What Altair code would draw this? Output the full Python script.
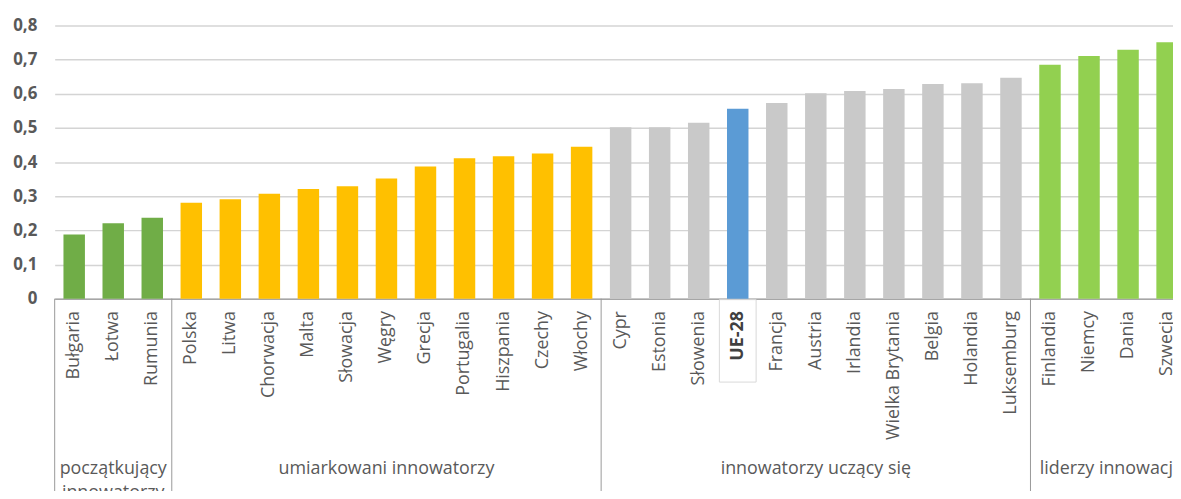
import json
import altair as alt
import pandas as pd

countries = ["Bułgaria", "Łotwa", "Rumunia", "Polska", "Litwa", "Chorwacja", "Malta",
             "Słowacja", "Węgry", "Grecja", "Portugalia", "Hiszpania", "Czechy", "Włochy",
             "Cypr", "Estonia", "Słowenia", "UE-28", "Francja", "Austria", "Irlandia",
             "Wielka Brytania", "Belgia", "Holandia", "Luksemburg", "Finlandia", "Niemcy",
             "Dania", "Szwecja"]
values = [0.188, 0.221, 0.237, 0.281, 0.291, 0.307, 0.321, 0.329, 0.352, 0.387, 0.411,
          0.417, 0.425, 0.445, 0.502, 0.502, 0.515, 0.556, 0.573, 0.602, 0.608, 0.614,
          0.629, 0.631, 0.647, 0.685, 0.711, 0.729, 0.751]
group_names = ["początkujący\ninnowatorzy", "umiarkowani innowatorzy",
               "innowatorzy uczący się", "liderzy innowacji"]
group_sizes = [3, 11, 11, 4]
group_colors = ["#70ad47", "#ffc000", "#c9c9c9", "#92d050"]
highlight = "UE-28"
highlight_color = "#5b9bd5"
y_tick_values = [0, 0.1, 0.2, 0.3, 0.4, 0.5, 0.6, 0.7, 0.8]
y_tick_labels = ["0", "0,1", "0,2", "0,3", "0,4", "0,5", "0,6", "0,7", "0,8"]

# build tables
group_of, color_of = [], []
for g, n in enumerate(group_sizes):
    group_of += [g] * n
for c, g in zip(countries, group_of):
    color_of.append(highlight_color if c == highlight else group_colors[g])
df = pd.DataFrame({"country": countries, "value": values, "group": group_of, "color": color_of})

starts, anchors, even_rows = [], [], []
pos = 0
for g, n in enumerate(group_sizes):
    starts.append(countries[pos])
    if n % 2 == 1:
        anchors.append({"country": countries[pos + n // 2], "label": group_names[g]})
    else:
        even_rows.append({"country": countries[pos + n // 2 - 1], "label": group_names[g]})
    pos += n
sep_df = pd.DataFrame({"country": starts})
lab_odd = pd.DataFrame(anchors)
lab_even = pd.DataFrame(even_rows)
hl_df = pd.DataFrame({"country": [highlight]})

FONT = "Open Sans"
TXT = "#595959"
PLOT_H = 275
STEP = 39.3
P_IN = 0.45
RANGE_W = STEP * len(countries)

xscale = alt.Scale(domain=countries, paddingInner=P_IN, paddingOuter=P_IN / 2, range=[0, RANGE_W])
yscale = alt.Scale(domain=[0, 0.8], nice=False)

label_expr = json.dumps(y_tick_labels) + "[round(datum.value * 10)]"

bars = alt.Chart(df).mark_bar().encode(
    x=alt.X("country:N", sort=countries, scale=xscale, title=None,
            axis=alt.Axis(labelAngle=-90, labelFont=FONT, labelFontSize=18,
                          labelColor=alt.condition(f"datum.value == '{highlight}'", alt.value("#404040"), alt.value(TXT)),
                          labelFontWeight=alt.condition(f"datum.value == '{highlight}'", alt.value("bold"), alt.value("normal")),
                          labelPadding=12, ticks=False, domainColor="#a6a6a6", domainWidth=1.5,
                          grid=False, labelOverlap=False, labelLimit=300)),
    y=alt.Y("value:Q", scale=yscale, title=None,
            axis=alt.Axis(values=y_tick_values, labelExpr=label_expr, labelFont=FONT,
                          labelFontSize=17, labelFontWeight="bold", labelColor=TXT,
                          labelPadding=18, ticks=False, domain=False,
                          grid=True, gridColor="#d4d4d4", gridWidth=1.5)),
    color=alt.Color("color:N", scale=None),
)

seps = alt.Chart(sep_df).mark_rule(color="#999999", strokeWidth=1, xOffset=-P_IN * STEP / 2).encode(
    x=alt.X("country:N", sort=countries, scale=xscale, bandPosition=0),
    y=alt.value(PLOT_H),
    y2=alt.value(PLOT_H + 230),
)

hl_box = alt.Chart(hl_df).mark_bar(width=37, fillOpacity=0, stroke="#d9d9d9", strokeWidth=1).encode(
    x=alt.X("country:N", sort=countries, scale=xscale),
    y=alt.value(PLOT_H + 1),
    y2=alt.value(PLOT_H + 84),
)

txt_odd = alt.Chart(lab_odd).mark_text(font=FONT, fontSize=18, color=TXT, baseline="alphabetic",
                                       align="center", lineBreak="\n", lineHeight=24).encode(
    x=alt.X("country:N", sort=countries, scale=xscale),
    y=alt.value(452),
    text="label:N",
)
txt_even = alt.Chart(lab_even).mark_text(font=FONT, fontSize=18, color=TXT, baseline="alphabetic",
                                         align="center", xOffset=STEP / 2).encode(
    x=alt.X("country:N", sort=countries, scale=xscale),
    y=alt.value(452),
    text="label:N",
)

chart = alt.layer(bars, seps, hl_box, txt_odd, txt_even).properties(
    width=1126, height=PLOT_H,
    autosize=alt.AutoSizeParams(type="none"),
    padding={"left": 47, "top": 16, "right": 0, "bottom": 483 - 16 - PLOT_H},
).configure_view(stroke=None)

chart.save("out.html", embed_options={"renderer": "svg", "actions": False})
